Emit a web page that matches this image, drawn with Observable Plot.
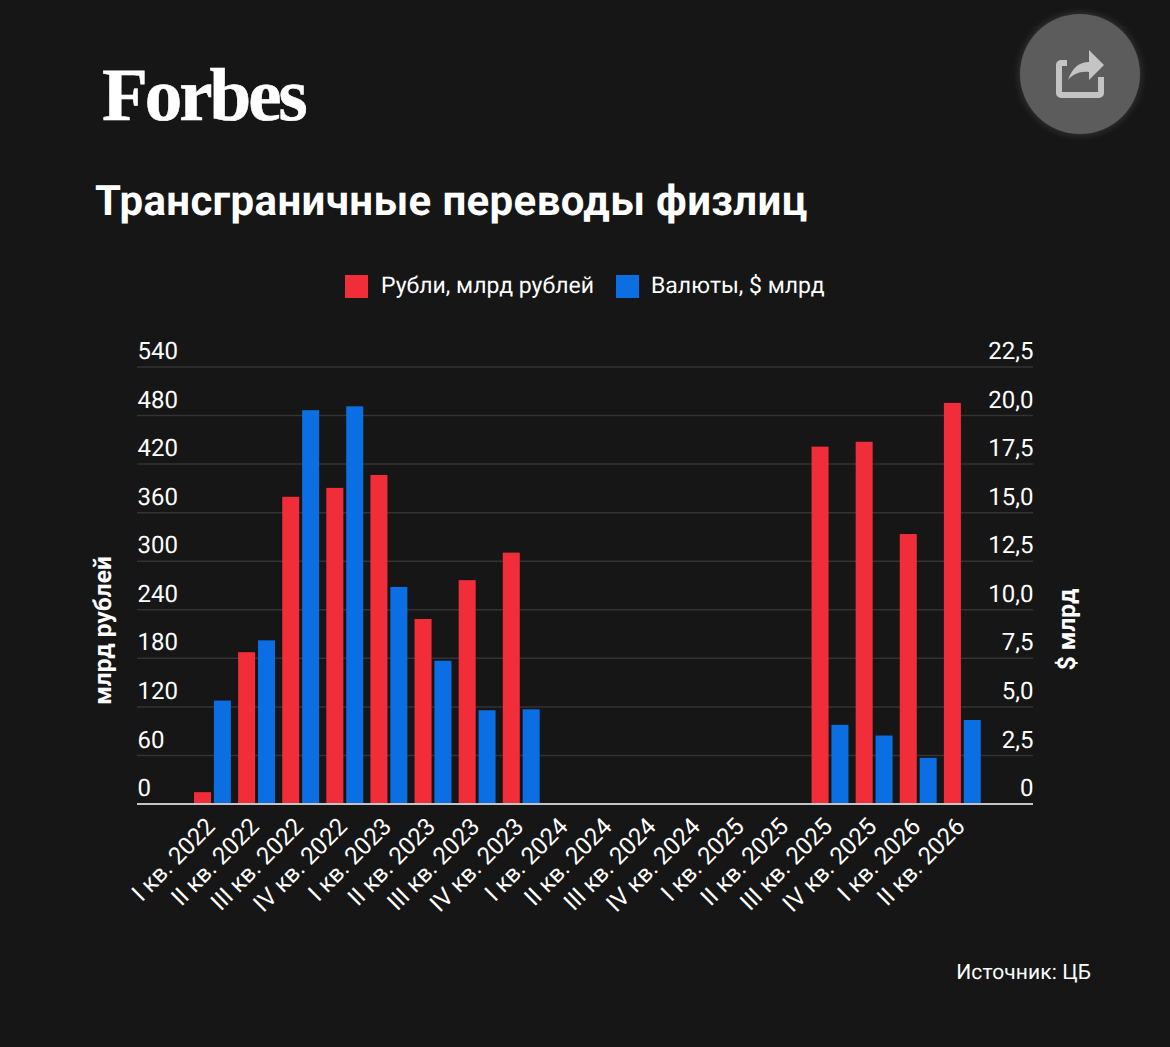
<!DOCTYPE html>
<html lang="ru"><head><meta charset="utf-8">
<script src="https://cdn.jsdelivr.net/npm/d3@7"></script>
<script src="https://cdn.jsdelivr.net/npm/@observablehq/plot@0.6"></script>
<style>
html,body{margin:0;padding:0;background:#161616;}
body{width:1170px;height:1047px;position:relative;overflow:hidden;font-family:Roboto,sans-serif;color:#fff;text-rendering:geometricPrecision;}
.logo{position:absolute;left:102px;top:54px;font:bold 75px/84px "Liberation Serif",serif;letter-spacing:-3px;color:#fff;-webkit-text-stroke:0.6px #fff;}
.title{position:absolute;left:95px;top:176px;font:bold 42px/52px Roboto,sans-serif;letter-spacing:.36px;color:#fff;white-space:nowrap;}
.legend{position:absolute;left:0;top:270px;width:1170px;height:32px;font:23px/32px Roboto,sans-serif;color:#fff;}
.legend span{position:absolute;top:0;white-space:nowrap;}
.legend i{position:absolute;top:5px;width:23px;height:23px;}
.share{position:absolute;left:1020px;top:14px;width:120px;height:120px;border-radius:50%;background:#5c5c5c;box-shadow:0 0 8px rgba(255,255,255,.18);}
.share svg{position:absolute;left:0;top:0;}
.source{position:absolute;right:79px;top:959px;font:21px/28px Roboto,sans-serif;letter-spacing:.1px;color:#fff;white-space:nowrap;}
#chart{position:absolute;left:0;top:340px;}
#chart svg{display:block;background:transparent;}
</style></head><body>
<div class="logo">Forbes</div>
<div class="share"><svg width="120" height="120" viewBox="0 0 120 120"><path d="M47 49H41a2 2 0 0 0-2 2V79a2 2 0 0 0 2 2H79a2 2 0 0 0 2-2V63" fill="none" stroke="#c4c4c4" stroke-width="6"/><path d="M48 66C52 54 59 48 69 48V36L84 51 69 66V58C60 57 53 60 48 66Z" fill="#c4c4c4"/></svg></div>
<div class="title">Трансграничные переводы физлиц</div>
<div class="legend">
<i style="left:345px;background:#f22d3a"></i><span style="left:381px" id="l1"></span>
<i style="left:616px;background:#0b6fe3"></i><span style="left:651px" id="l2"></span>
</div>
<div id="chart"></div>
<div class="source">Источник: ЦБ</div>
<script>
const quarters = ["I кв. 2022","II кв. 2022","III кв. 2022","IV кв. 2022","I кв. 2023","II кв. 2023","III кв. 2023","IV кв. 2023","I кв. 2024","II кв. 2024","III кв. 2024","IV кв. 2024","I кв. 2025","II кв. 2025","III кв. 2025","IV кв. 2025","I кв. 2026","II кв. 2026"];
const rubles = [14,187,379,390,406,228,276,310,null,null,null,null,null,null,441,447,333,495];
const dollars = [5.3,8.4,20.25,20.45,11.15,7.35,4.8,4.85,null,null,null,null,null,null,4.05,3.5,2.35,4.3];
const rubleTicks = [0,60,120,180,240,300,360,420,480,540];
const dollarTicks = ["0","2,5","5,0","7,5","10,0","12,5","15,0","17,5","20,0","22,5"];
const seriesNames = ["Рубли, млрд рублей","Валюты, $ млрд"];
const axisNames = ["млрд рублей","$ млрд"];
const rublesPerDollarUnit = 540/22.5;
document.getElementById("l1").textContent = seriesNames[0];
document.getElementById("l2").textContent = seriesNames[1];

const redRows = quarters.map((q,i)=>({q,v:rubles[i]})).filter(d=>d.v!=null);
const blueRows = quarters.map((q,i)=>({q,v:dollars[i]})).filter(d=>d.v!=null);

const plot = Plot.plot({
  width:1170,height:620,
  marginLeft:137,marginRight:137,marginTop:26.5,marginBottom:156.5,
  style:{background:"transparent",color:"#fff",fontFamily:"Roboto, sans-serif",fontSize:"24px",overflow:"visible"},
  x:{type:"band",domain:quarters,range:[190.3,984.3],padding:0,round:false,label:null},
  y:{domain:[0,540],label:null},
  marks:[
    Plot.ruleY(rubleTicks.slice(1),{stroke:"#333333",strokeWidth:1.5}),
    Plot.barY(redRows,{x:"q",y:"v",fill:"#f22d3a",insetLeft:3.7,insetRight:23.4}),
    Plot.barY(blueRows,{x:"q",y:d=>d.v*rublesPerDollarUnit,fill:"#0b6fe3",insetLeft:23.6,insetRight:3.5}),
    Plot.ruleY([0],{stroke:"#c4c4c4",strokeWidth:2}),
    Plot.axisY({anchor:"left",ticks:rubleTicks,tickSize:0,tickPadding:0,textAnchor:"start",dy:-15.6,fill:"#fff",fontSize:24,label:null}),
    Plot.axisY({anchor:"right",ticks:rubleTicks,tickSize:0,tickPadding:0,textAnchor:"end",dy:-15.6,fill:"#fff",fontSize:24,tickFormat:d=>dollarTicks[rubleTicks.indexOf(d)],label:null}),
    Plot.text([axisNames[0]],{frameAnchor:"left",textAnchor:"middle",rotate:-90,dx:-34,dy:45,fontSize:24.5,fontWeight:700,fill:"#fff"}),
    Plot.text([axisNames[1]],{frameAnchor:"right",textAnchor:"middle",rotate:-90,dx:33.5,dy:44,fontSize:24.5,fontWeight:700,fill:"#fff"}),
    Plot.axisX({anchor:"bottom",tickSize:0,tickPadding:18.5,tickRotate:-45,dx:-2,fill:"#fff",fontSize:24,label:null})
  ]
});
document.getElementById("chart").appendChild(plot);
</script>
</body></html>
